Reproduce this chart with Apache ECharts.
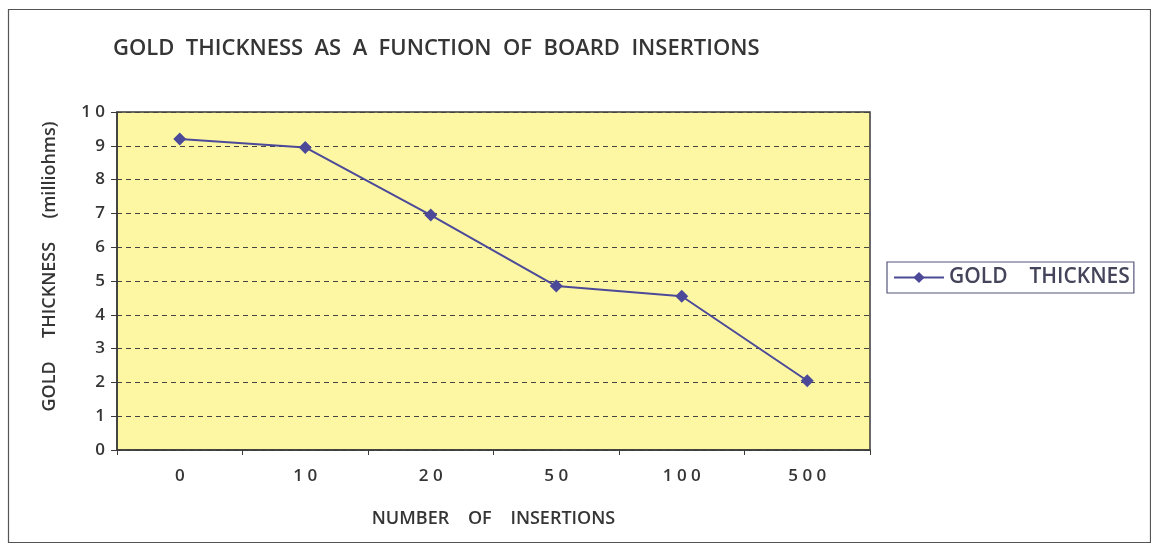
<!DOCTYPE html>
<html>
<head>
<meta charset="utf-8">
<script src="https://cdn.jsdelivr.net/npm/echarts@6/dist/echarts.min.js"></script>
<style>
  html, body { margin: 0; padding: 0; background: #fff; }
  #chart { width: 1151px; height: 550px; }
</style>
</head>
<body>
<div id="chart"></div>
<script>
// x categories, y ticks and the one series
const insertions = ['0', '10', '20', '50', '100', '500'];
const goldThickness = [9.2, 8.95, 6.95, 4.85, 4.55, 2.05];
const yTicks = [0, 1, 2, 3, 4, 5, 6, 7, 8, 9, 10];
const seriesName = 'GOLD    THICKNESS';

// spaced-out digits like the original print ("1 0 0")
const spaced = v => String(v).split('').join(' ');

const chart = echarts.init(document.getElementById('chart'));
const txt = '#353535';
const font = 'Open Sans';

chart.setOption({
  animation: false,
  backgroundColor: '#fff',
  title: {
    text: 'GOLD  THICKNESS  AS  A  FUNCTION  OF  BOARD  INSERTIONS',
    left: 108, top: 33,
    textStyle: { color: txt, fontSize: 22, fontWeight: 600, fontFamily: font }
  },
  legend: {
    left: 887, top: 262,
    padding: [5, 4, 5, 6], itemGap: 0,
    borderColor: '#55557a', borderWidth: 1.2,
    itemWidth: 50, itemHeight: 14,
    textStyle: { color: '#44445a', fontSize: 21, fontWeight: 600, fontFamily: font,
                 width: 190, overflow: 'truncate', ellipsis: '' },
    data: [{ name: seriesName }]
  },
  grid: { left: 117, right: 281, top: 112, bottom: 100,
          show: true, backgroundColor: '#fdf7a4', borderColor: '#3a3a3a', borderWidth: 1.5 },
  xAxis: {
    type: 'category',
    data: insertions,
    name: 'NUMBER    OF    INSERTIONS',
    nameLocation: 'middle', nameGap: 60,
    nameTextStyle: { color: txt, fontSize: 18, fontWeight: 600, fontFamily: font },
    axisLine: { lineStyle: { color: '#3a3a3a', width: 1.5 } },
    axisTick: { show: true, length: 5, lineStyle: { color: '#3a3a3a' } },
    axisLabel: { color: txt, fontSize: 17, fontWeight: 600, fontFamily: font, margin: 18, formatter: spaced }
  },
  yAxis: {
    type: 'value',
    min: yTicks[0], max: yTicks[yTicks.length - 1], interval: 1,
    name: 'GOLD     THICKNESS     (milliohms)',
    nameLocation: 'middle', nameGap: 58, nameRotate: 90,
    nameTextStyle: { color: txt, fontSize: 18, fontWeight: 600, fontFamily: font,
                     padding: [0, 0, 0, 29] },
    axisLine: { show: true, lineStyle: { color: '#3a3a3a', width: 1.5 } },
    axisTick: { show: true, length: 6, lineStyle: { color: '#3a3a3a' } },
    axisLabel: { color: txt, fontSize: 17, fontWeight: 600, fontFamily: font, margin: 12, formatter: spaced },
    splitLine: { show: true, lineStyle: { color: '#444', type: [5, 4], width: 1 } }
  },
  series: [{
    name: seriesName,
    type: 'line',
    data: goldThickness,
    symbol: 'diamond', symbolSize: 13,
    itemStyle: { color: '#4c4a98' },
    lineStyle: { color: '#4c4a98', width: 2 }
  }],
  graphic: [{
    type: 'rect', left: 6, top: 7, silent: true,
    shape: { width: 1142, height: 533 },
    style: { fill: null, stroke: '#555', lineWidth: 1.2 }
  }]
});
</script>
</body>
</html>
